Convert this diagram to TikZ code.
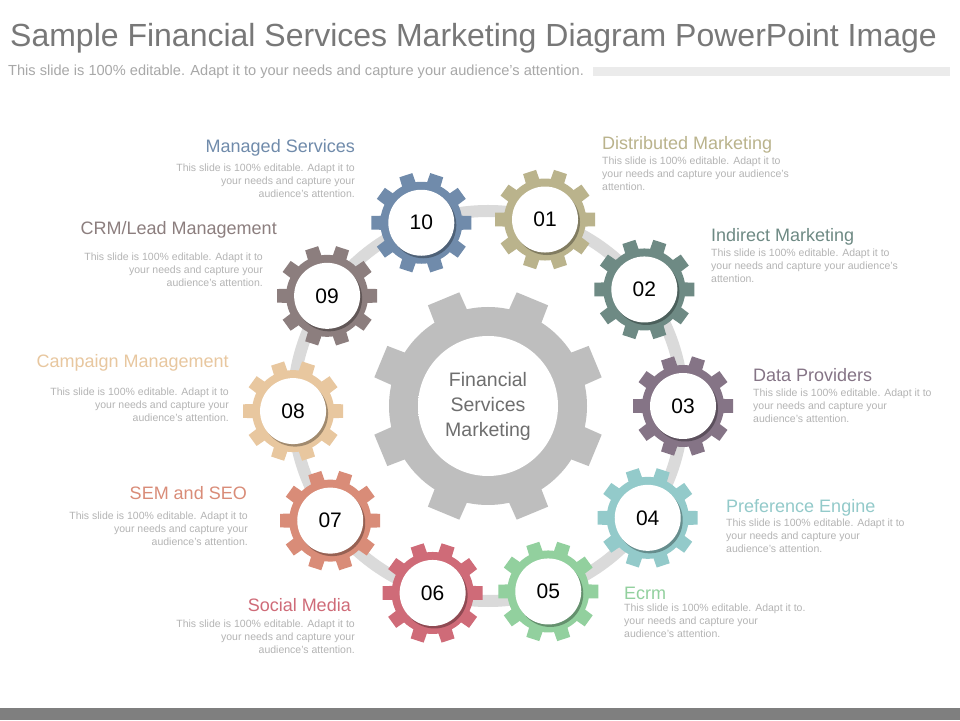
\documentclass[tikz,border=0pt]{standalone}
\usepackage{fontspec}
\setmainfont{Liberation Sans}
\usetikzlibrary{calc, shadows}

\definecolor{titlegray}{HTML}{787878}
\definecolor{subgray}{HTML}{A8A8A8}
\definecolor{bargray}{HTML}{EBEBEB}
\definecolor{footgray}{HTML}{7F7F7F}
\definecolor{ringgray}{HTML}{DADADA}
\definecolor{hubgray}{HTML}{BEBEBE}
\definecolor{hubtext}{HTML}{6E6E6E}
\definecolor{blurbgray}{HTML}{B4B4B4}
\definecolor{cogA}{HTML}{BAB38C}
\definecolor{cogB}{HTML}{6E8A84}
\definecolor{cogC}{HTML}{857486}
\definecolor{cogD}{HTML}{93CACA}
\definecolor{cogE}{HTML}{92D09E}
\definecolor{cogF}{HTML}{CF6B78}
\definecolor{cogG}{HTML}{D98C78}
\definecolor{cogH}{HTML}{E8C79F}
\definecolor{cogI}{HTML}{8C7E7E}
\definecolor{cogJ}{HTML}{708BAB}

\pgfdeclareradialshading{hubface}{\pgfpoint{0bp}{0bp}}{color(0bp)=(white); color(40bp)=(white); color(47bp)=(gray!25); color(50bp)=(gray!45)}

% #1 centre, #2 teeth, #3 body radius, #4 tip radius, #5 half tooth, #6 colour, #7 offset
\newcommand{\drawcog}[7]{%
  \fill[#6] (#1) circle (#3);
  \foreach \k in {1,...,#2}
    \fill[#6, shift={(#1)}, rotate={#7+\k*360/#2}]
      (-#5,0) -- ({-0.85*#5},#4) -- ({0.85*#5},#4) -- (#5,0) -- cycle;
}

\begin{document}
\begin{tikzpicture}[x=1pt, y=1pt,
  ring/.style={line width=12pt, color=ringgray},
  face/.style={circle, fill=white, minimum size=66pt, inner sep=0pt,
    font=\fontsize{21}{21}\selectfont,
    drop shadow={shadow xshift=2pt, shadow yshift=-2.5pt, opacity=0.3, fill=black}},
  headline/.style={inner sep=0pt, font=\fontsize{18}{20}\selectfont},
  blurb/.style={inner sep=0pt, text=blurbgray, font=\fontsize{10.5}{13}\selectfont}]

  \useasboundingbox (0,0) rectangle (960,720);
  \fill[white] (0,0) rectangle (960,720);

  \node[anchor=base west, inner sep=0pt, text=titlegray, font=\fontsize{32}{38}\selectfont] (title) at (10,673)
    {Sample Financial Services Marketing Diagram PowerPoint Image};
  \node[anchor=base west, inner sep=0pt, text=subgray, font=\fontsize{14.6}{16}\selectfont] (subtitle) at (8,644)
    {This slide is 100\% editable. Adapt it to your needs and capture your audience's attention.};
  \fill[bargray] (593,644) rectangle (950,653);
  \fill[footgray] (0,0) rectangle (960,12);

  \coordinate (hub) at (488,314);
  \draw[ring] (hub) circle (195);

  \drawcog{hub}{8}{99}{116}{20}{hubgray}{22.5}
  \node[circle, minimum size=140pt, inner sep=0pt, shade, shading=hubface, align=center,
    text=hubtext, font=\fontsize{19.5}{25}\selectfont] (centre) at (hub) {Financial\\Services\\Marketing};

  \foreach \n/\a/\c in {01/73/cogA, 02/36.7/cogB, 03/0/cogC, 04/-35/cogD, 05/-72/cogE,
                        06/-106.5/cogF, 07/-144/cogG, 08/181.5/cogH, 09/145.6/cogI, 10/110/cogJ}{
    \drawcog{$(hub)+(\a:195)$}{10}{41}{50}{8}{\c}{18}
    \node[face] (g\n) at ($(hub)+(\a:195)$) {\n};
  }

  % left column
  \node[headline, anchor=base east, text=cogJ] (t10) at (355,567) {Managed Services};
  \node[blurb, anchor=north east, align=right] (b10) at (355,556)
    {This slide is 100\% editable. Adapt it to\\your needs and capture your\\audience's attention.};
  \node[headline, anchor=base east, text=cogI] (t09) at (277,485) {CRM/Lead Management};
  \node[blurb, anchor=north east, align=right] (b09) at (263,467)
    {This slide is 100\% editable. Adapt it to\\your needs and capture your\\audience's attention.};
  \node[headline, anchor=base east, text=cogH] (t08) at (229,352) {Campaign Management};
  \node[blurb, anchor=north east, align=right] (b08) at (229,332)
    {This slide is 100\% editable. Adapt it to\\your needs and capture your\\audience's attention.};
  \node[headline, anchor=base east, text=cogG] (t07) at (247,220) {SEM and SEO};
  \node[blurb, anchor=north east, align=right] (b07) at (248,208)
    {This slide is 100\% editable. Adapt it to\\your needs and capture your\\audience's attention.};
  \node[headline, anchor=base east, text=cogF] (t06) at (351,109) {Social Media};
  \node[blurb, anchor=north east, align=right] (b06) at (355,100)
    {This slide is 100\% editable. Adapt it to\\your needs and capture your\\audience's attention.};

  % right column
  \node[headline, anchor=base west, text=cogA] (t01) at (602,570) {Distributed Marketing};
  \node[blurb, anchor=north west, align=left] (b01) at (602,563)
    {This slide is 100\% editable. Adapt it to\\your needs and capture your audience's\\attention.};
  \node[headline, anchor=base west, text=cogB] (t02) at (711,478) {Indirect Marketing};
  \node[blurb, anchor=north west, align=left] (b02) at (711,471)
    {This slide is 100\% editable. Adapt it to\\your needs and capture your audience's\\attention.};
  \node[headline, anchor=base west, text=cogC] (t03) at (753,338) {Data Providers};
  \node[blurb, anchor=north west, align=left] (b03) at (753,331)
    {This slide is 100\% editable. Adapt it to\\your needs and capture your\\audience's attention.};
  \node[headline, anchor=base west, text=cogD] (t04) at (726,207) {Preference Engine};
  \node[blurb, anchor=north west, align=left] (b04) at (726,201)
    {This slide is 100\% editable. Adapt it to\\your needs and capture your\\audience's attention.};
  \node[headline, anchor=base west, text=cogE] (t05) at (624,121) {Ecrm};
  \node[blurb, anchor=north west, align=left] (b05) at (624,116)
    {This slide is 100\% editable. Adapt it to.\\your needs and capture your\\audience's attention.};
\end{tikzpicture}
\end{document}
